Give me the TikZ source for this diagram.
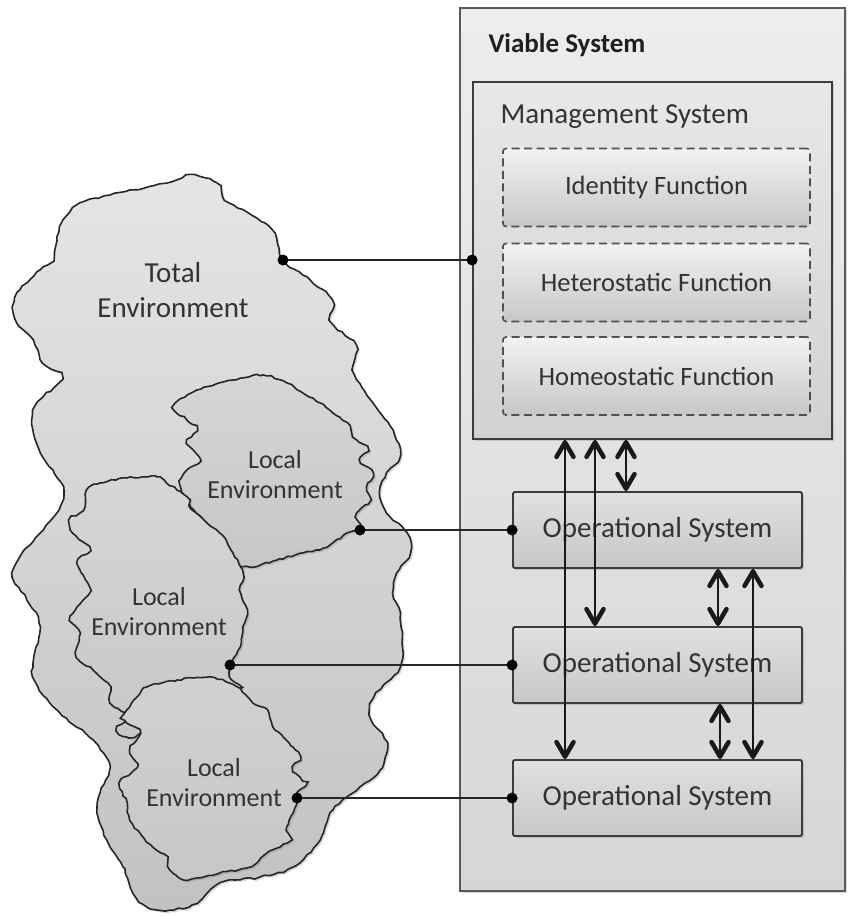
\documentclass[tikz,border=0pt]{standalone}
\usepackage{fontspec}
\setmainfont{Carlito}
\usetikzlibrary{arrows.meta,shadows,decorations.pathmorphing}
\definecolor{edge}{HTML}{3C3C3C}
\pgfmathsetseed{7}
\tikzset{
  shd/.style={drop shadow={opacity=0.3,shadow xshift=2pt,shadow yshift=-2pt}},
  viable/.style={draw=edge!85,line width=1.8pt,top color=white!93!black,bottom color=white!84!black,shd,minimum width=385pt,minimum height=883pt,inner sep=0pt},
  mgmt/.style={draw=edge,line width=1.8pt,top color=white!91!black,bottom color=white!82!black,shd,minimum width=359pt,minimum height=357pt,inner sep=0pt},
  func/.style={draw=edge!90,line width=1.6pt,dash pattern=on 8pt off 4.5pt,rounded corners=3pt,top color=white!95!black,bottom color=white!78!black,minimum width=307pt,minimum height=78pt,inner sep=0pt,font=\fontsize{26.5}{31}\selectfont,text=black!80},
  opsys/.style={draw=edge,line width=1.8pt,rounded corners=1.5pt,top color=white!88!black,bottom color=white!78!black,shd,minimum width=289pt,minimum height=76pt,inner sep=0pt,font=\fontsize{29}{34}\selectfont,text=black!80},
  cloudA/.style={draw=black!85,line width=1.6pt,top color=white!93!black,bottom color=white!76!black,shd},
  cloudB/.style={draw=black!85,line width=1.6pt,top color=white!95!black,bottom color=white!78!black,shd},
  envtext/.style={align=center,text=black!80,font=\fontsize{26}{30}\selectfont},
  link/.style={line width=1.6pt,draw=black!85},
  dotmark/.style={fill=black},
  channel/.style={line width=1.9pt,draw=black!90},
  chev/.pic={\draw[line width=4.5pt,line cap=round,line join=round,black!90] (-8.5,17) -- (0,2.5) -- (8.5,17);},
}
\newcommand{\twoway}[2]{%
  \draw[channel] (#1) -- (#2);
  \pic at (#1) {chev};
  \pic[rotate=180] at (#2) {chev};
}
\begin{document}
\begin{tikzpicture}[x=1pt,y=-1pt]
\useasboundingbox (0,0) rectangle (848,916);

% ---------- right side: viable system ----------
\node[viable] (vs) at (652.5,449.5) {};
\node[anchor=west,font=\bfseries\fontsize{27}{32}\selectfont,text=black!88] (vst) at (485,45) {Viable System};
\node[mgmt] (ms) at (652.5,260.5) {};
\node[anchor=west,font=\fontsize{29}{34}\selectfont,text=black!80] (mst) at (497,117) {Management System};
\node[func] (idf) at (656.5,187.5) {Identity Function};
\node[func] (hef) at (656.5,282.5) {Heterostatic Function};
\node[func] (hof) at (656.5,376) {Homeostatic Function};
\node[opsys] (os1) at (657.5,530) {Operational System};
\node[opsys] (os2) at (657.5,665) {Operational System};
\node[opsys] (os3) at (657.5,798) {Operational System};

% ---------- left side: environments ----------
\path[cloudA] decorate[decoration={random steps,segment length=5pt,amplitude=0.9pt}] {plot[smooth cycle,tension=0.55] coordinates {
(190,175) (217,183) (225,200) (248,213) (272,230) (283,260) (310,280) (332,300) (331,322)
(356,345) (353,370) (373,403) (393,430) (400,457) (387,473) (380,493) (387,513) (407,533)
(410,553) (397,573) (393,593) (400,613) (402,643) (400,667) (375,695) (370,717) (387,743)
(380,770) (360,787) (347,797) (330,813) (320,840) (293,867) (260,877) (220,883) (197,903)
(170,910) (147,907) (133,893) (123,867) (107,840) (97,813) (100,793) (110,767) (93,740)
(60,713) (33,677) (40,627) (27,600) (13,577) (20,557) (40,533) (60,507) (63,487) (43,457)
(33,430) (33,410) (43,397) (62,378) (43,363) (33,340) (17,323) (13,307) (20,290) (40,270)
(53,260) (57,237) (63,220) (80,203) (110,195) (167,183)}};
\node[envtext,font=\fontsize{29}{35}\selectfont] (tet) at (173,290) {Total\\Environment};

\path[cloudB] decorate[decoration={random steps,segment length=4pt,amplitude=0.9pt}] {plot[smooth cycle,tension=0.55] coordinates {
(173,407) (197,390) (233,380) (263,375) (287,383) (303,393) (320,403) (333,413) (347,423)
(353,437) (367,447) (360,460) (373,473) (367,487) (370,500) (357,513) (360,527) (347,533)
(327,547) (303,553) (277,560) (250,567) (230,560) (220,545) (210,528) (190,505) (180,485)
(187,470) (200,460) (187,443) (197,430) (187,420)}};
\node[envtext] (l1t) at (275,475) {Local\\Environment};

\path[cloudB] decorate[decoration={random steps,segment length=4pt,amplitude=0.9pt}] {plot[smooth cycle,tension=0.55] coordinates {
(87,490) (100,483) (127,478) (157,477) (167,483) (187,497) (190,507) (207,523) (222,535)
(233,553) (243,573) (240,590) (247,610) (243,627) (240,647) (230,665) (230,677) (240,688)
(200,690) (160,700) (140,733) (127,737) (117,730) (127,717) (110,703) (110,687) (93,670)
(77,657) (80,633) (70,620) (77,607) (90,590) (77,563) (90,550) (73,533) (70,520) (83,510)}};
\node[envtext] (l2t) at (159,612) {Local\\Environment};

\path[cloudB] decorate[decoration={random steps,segment length=4pt,amplitude=0.9pt}] {plot[smooth cycle,tension=0.55] coordinates {
(123,717) (137,697) (147,687) (177,680) (210,677) (237,687) (253,703) (267,710) (273,727)
(283,737) (293,747) (300,757) (293,767) (300,777) (307,783) (297,793) (297,800) (293,813)
(287,827) (290,840) (267,853) (250,867) (220,873) (187,880) (170,870) (167,857) (153,847)
(143,837) (130,820) (127,803) (120,783) (137,767) (130,750) (140,733) (127,723)}};
\node[envtext] (l3t) at (214,783) {Local\\Environment};

% ---------- connection points ----------
\coordinate (te) at (283,260);
\coordinate (le1) at (360,530);
\coordinate (le2) at (230,665);
\coordinate (le3) at (297,798);

\draw[link] (te) -- (te -| ms.west);
\draw[link] (le1) -- (le1 -| os1.west);
\draw[link] (le2) -- (le2 -| os2.west);
\draw[link] (le3) -- (le3 -| os3.west);
\foreach \p/\n in {te/ms,le1/os1,le2/os2,le3/os3}{
  \fill[dotmark] (\p) circle (5.5);
  \fill[dotmark] (\p -| \n.west) circle (5.5);
}

% ---------- vertical channels ----------
\coordinate (xa) at (565,0);
\coordinate (xb) at (595,0);
\coordinate (xc) at (626,0);
\coordinate (xd) at (718,0);
\coordinate (xe) at (753,0);
\coordinate (xf) at (720,0);
\twoway{xa |- ms.south}{xa |- os3.north}
\twoway{xb |- ms.south}{xb |- os2.north}
\twoway{xc |- ms.south}{xc |- os1.north}
\twoway{xd |- os1.south}{xd |- os2.north}
\twoway{xe |- os1.south}{xe |- os3.north}
\twoway{xf |- os2.south}{xf |- os3.north}
\end{tikzpicture}
\end{document}
